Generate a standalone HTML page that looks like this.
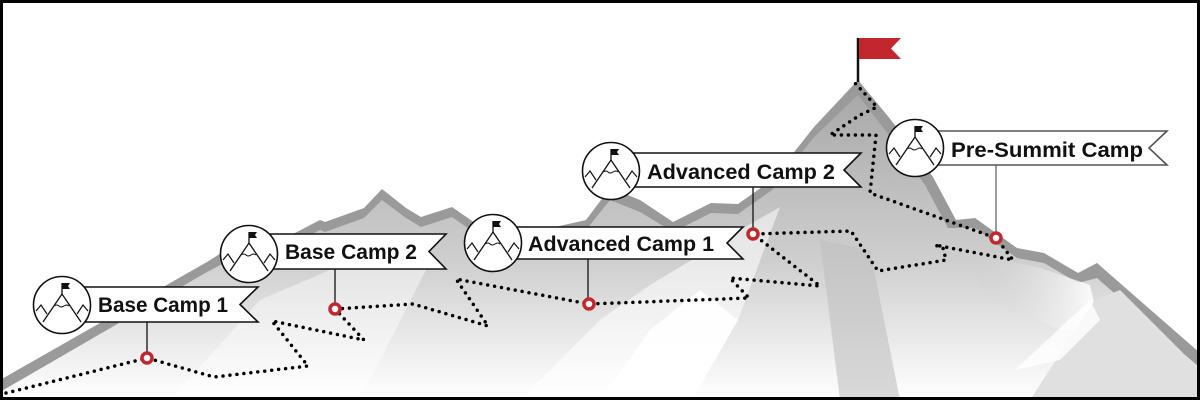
<!DOCTYPE html>
<html><head><meta charset="utf-8"><style>
html,body{margin:0;padding:0;background:#fff}
svg{display:block}
text{font-family:"Liberation Sans",sans-serif;font-weight:bold;font-size:21px;fill:#111}
</style></head><body>
<svg width="1200" height="400" viewBox="0 0 1200 400" xmlns="http://www.w3.org/2000/svg">
<defs>
<linearGradient id="g" x1="0" y1="0" x2="0" y2="1" gradientUnits="objectBoundingBox">
<stop offset="0" stop-color="#a9a9a9"/><stop offset="0.55" stop-color="#cfcfcf"/><stop offset="1" stop-color="#ffffff"/>
</linearGradient>
<linearGradient id="w" x1="0" y1="0" x2="0" y2="1">
<stop offset="0" stop-color="#e6e6e6"/><stop offset="1" stop-color="#ffffff"/>
</linearGradient>
<linearGradient id="wr" x1="0" y1="0" x2="1" y2="0">
<stop offset="0" stop-color="#c8c8c8" stop-opacity="0"/><stop offset="1" stop-color="#ffffff"/>
</linearGradient>
<g id="icon">
<circle r="28.5" fill="#fff" stroke="#111" stroke-width="1.6"/>
<polyline points="-19,17 0,-11 19,17" fill="none" stroke="#111" stroke-width="1.3"/>
<polyline points="-26,6 -21,0 -15,9" fill="none" stroke="#111" stroke-width="1.2"/>
<polyline points="15,9 21,0 26,6" fill="none" stroke="#111" stroke-width="1.2"/>
<path d="M-8,1 q3,-2 5,0 t5,0 t5,0" fill="none" stroke="#111" stroke-width="1"/>
<line x1="0" y1="-11" x2="0" y2="-22" stroke="#111" stroke-width="1.3"/>
<polygon points="0,-22 8,-22 6,-19 8,-16 0,-16" fill="#111"/>
</g>
</defs>
<rect width="1200" height="400" fill="#fff"/>
<polygon fill="#9a9a9a" points="0,380 207,262 226,250 295,233 320,220 325,222 364,208 382,189 406,208 421,217 452,207 475,223 520,235 586,220 610,188 640,200 673,222 711,203 738,204 772,180 814,127 858,80 891,120 933,177 956,220 975,218 1017,248 1044,253 1078,273 1097,263 1200,353 1200,400 0,400"/>
<polygon fill="url(#g)" points="0,392 207,272 226,262 295,243 320,230 325,232 364,218 382,200 406,218 421,227 452,217 475,233 520,245 586,230 610,200 640,212 673,232 711,213 738,214 772,190 814,137 858,95 885,130 925,185 948,228 975,228 1017,258 1044,263 1078,283 1097,278 1200,368 1200,400 0,400"/>
<!-- snow / light areas -->
<polygon fill="url(#w)" opacity="0.9" points="170,400 260,300 330,270 430,262 360,400"/>
<polygon fill="url(#w)" opacity="0.9" points="520,400 600,320 650,285 700,255 740,230 780,207 738,320 692,400"/>
<polygon fill="#fff" opacity="0.9" points="600,400 650,330 700,290 738,320 692,400"/>
<polygon fill="url(#wr)" points="960,250 1040,268 1090,285 1100,330 1060,330 990,300"/>
<polygon fill="#e0e0e0" points="1030,400 1095,300 1120,290 1200,370 1200,400"/>
<polygon fill="#fff" opacity="0.8" points="1015,370 1090,300 1100,320 1060,360"/>
<polygon fill="#c0c0c0" opacity="0.6" points="820,240 870,250 900,400 840,400"/>
<rect x="1.5" y="1.5" width="1197" height="397" fill="none" stroke="#000" stroke-width="3"/>
<line x1="858" y1="38" x2="858" y2="82" stroke="#111" stroke-width="2.5"/>
<polygon points="859,38 901,38 891,48.5 901,59 859,59" fill="#c1272d"/>
<polyline fill="none" stroke="#000" stroke-width="3.5" stroke-linecap="round" stroke-linejoin="round" stroke-dasharray="0 7"
points="6,393 147,358 214,377 308,366 272,321 364,340 335,309 413,304 488,326 456,279 589,304 749,298 730,278 820,286 753,234 851,231 878,271 946,260 943,248 935,245 1013,260 996,238 870,193 876,135 830,135 860,115 877,107 855,83"/>
<line x1="147" y1="322" x2="147" y2="353" stroke="#111" stroke-width="1.3"/>
<line x1="335" y1="269" x2="335" y2="303" stroke="#111" stroke-width="1.3"/>
<line x1="588" y1="259" x2="588" y2="298" stroke="#111" stroke-width="1.3"/>
<line x1="753" y1="187" x2="753" y2="229" stroke="#111" stroke-width="1.3"/>
<line x1="996" y1="165" x2="996" y2="233" stroke="#666" stroke-width="1.3"/>
<g fill="#fff" stroke="#c1272d" stroke-width="3.5">
<circle cx="147" cy="358" r="5"/><circle cx="335" cy="309" r="5"/><circle cx="589" cy="304" r="5"/><circle cx="753" cy="234" r="5"/><circle cx="996" cy="238" r="5"/>
</g>
<g fill="#fff" stroke="#111" stroke-width="1.6">
<polygon points="70,287 258,287 240,304.5 258,322 70,322"/>
<polygon points="255,234 446,234 429,251.5 446,269 255,269"/>
<polygon points="495,227 743,227 727,243 743,259 495,259"/>
<polygon points="615,153 861,153 844,170 861,187 615,187"/>
<polygon points="918,131 1167,131 1149,148 1167,165 918,165" stroke="#555"/>
</g>
<use href="#icon" x="62" y="305"/>
<use href="#icon" x="249" y="254"/>
<use href="#icon" x="493" y="243"/>
<use href="#icon" x="611" y="171"/>
<use href="#icon" x="915" y="148"/>
<text x="98" y="312" textLength="130" lengthAdjust="spacingAndGlyphs">Base Camp 1</text>
<text x="285" y="259" textLength="132" lengthAdjust="spacingAndGlyphs">Base Camp 2</text>
<text x="528" y="251" textLength="186" lengthAdjust="spacingAndGlyphs">Advanced Camp 1</text>
<text x="647" y="179" textLength="188" lengthAdjust="spacingAndGlyphs">Advanced Camp 2</text>
<text x="951" y="157" textLength="192" lengthAdjust="spacingAndGlyphs">Pre-Summit Camp</text>
</svg>
</body></html>
